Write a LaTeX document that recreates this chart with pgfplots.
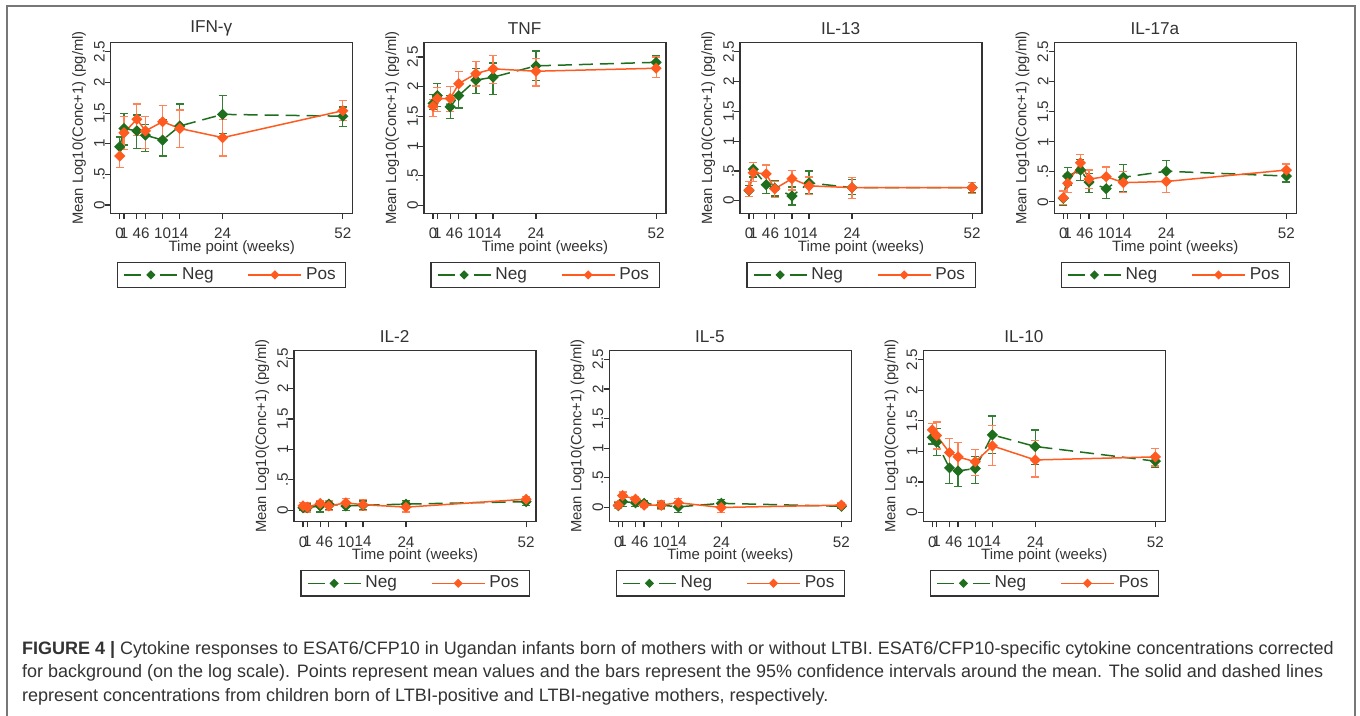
\documentclass[border=0pt]{standalone}
\usepackage{fontspec}
\setmainfont{Liberation Sans}
\usepackage{pgfplots}
\usepackage{pgfplotstable}
\pgfplotsset{compat=1.18}

\definecolor{negc}{HTML}{1E6E1E}
\definecolor{posc}{HTML}{FF5A1F}
\definecolor{axc}{HTML}{333333}
\definecolor{txc}{HTML}{333333}
\definecolor{framec}{HTML}{777777}

% columns: week, Neg mean/low/high, Pos mean/low/high
\pgfplotstableread{
x  nm    nl    nh    pm    pl    ph
0  0.95  0.79  1.11  0.80  0.61  0.95
1  1.25  0.98  1.49  1.18  0.91  1.44
4  1.21  0.92  1.47  1.40  1.14  1.65
6  1.14  0.87  1.32  1.21  0.92  1.45
10 1.06  0.80  1.39  1.36  1.10  1.63
14 1.29  0.94  1.65  1.25  0.94  1.55
24 1.48  1.17  1.79  1.10  0.80  1.40
52 1.45  1.28  1.60  1.54  1.38  1.70
}\ifng
\pgfplotstableread{
x  nm    nl    nh    pm    pl    ph
0  1.72  1.61  1.87  1.67  1.50  1.79
1  1.85  1.66  2.06  1.80  1.58  1.99
4  1.66  1.46  1.85  1.80  1.58  2.00
6  1.85  1.64  2.06  2.05  1.85  2.26
10 2.11  1.88  2.31  2.22  2.01  2.43
14 2.16  1.87  2.40  2.30  2.05  2.52
24 2.35  2.10  2.60  2.26  2.01  2.48
52 2.41  2.29  2.52  2.31  2.15  2.50
}\tnf
\pgfplotstableread{
x  nm    nl    nh    pm    pl    ph
0  0.17  0.07  0.26  0.18  0.07  0.32
1  0.53  0.40  0.64  0.47  0.32  0.64
4  0.27  0.12  0.42  0.45  0.26  0.60
6  0.21  0.08  0.34  0.20  0.06  0.32
10 0.08 -0.07  0.23  0.37  0.18  0.51
14 0.30  0.12  0.50  0.25  0.11  0.40
24 0.22  0.10  0.35  0.22  0.04  0.39
52 0.22  0.13  0.31  0.22  0.12  0.30
}\ilxiii
\pgfplotstableread{
x  nm    nl    nh    pm    pl    ph
0  0.06 -0.06  0.17  0.07 -0.04  0.18
1  0.43  0.28  0.57  0.31  0.15  0.47
4  0.53  0.36  0.71  0.65  0.47  0.79
6  0.33  0.15  0.47  0.38  0.22  0.53
10 0.22  0.06  0.39  0.42  0.24  0.58
14 0.41  0.17  0.62  0.32  0.15  0.50
24 0.51  0.33  0.69  0.34  0.15  0.54
52 0.43  0.33  0.53  0.53  0.43  0.63
}\ilxvii
\pgfplotstableread{
x  nm    nl    nh    pm    pl    ph
0  0.04 -0.01  0.09  0.07  0.02  0.12
1  0.04 -0.01  0.10  0.05 -0.03  0.12
4  0.07 -0.03  0.14  0.11  0.04  0.16
6  0.10  0.01  0.16  0.07 -0.01  0.15
10 0.07  0.00  0.12  0.12  0.05  0.19
14 0.08  0.01  0.15  0.09 -0.01  0.18
24 0.10  0.04  0.15  0.05 -0.03  0.14
52 0.14  0.08  0.19  0.18  0.12  0.22
}\ilii
\pgfplotstableread{
x  nm    nl    nh    pm    pl    ph
0  0.03 -0.02  0.08  0.04 -0.02  0.10
1  0.10  0.02  0.17  0.20  0.12  0.26
4  0.08  0.02  0.15  0.14  0.10  0.18
6  0.07  0.00  0.12  0.04  0.00  0.10
10 0.04 -0.01  0.09  0.04 -0.03  0.11
14 0.01 -0.09  0.10  0.08  0.01  0.15
24 0.07  0.01  0.13  0.00 -0.09  0.07
52 0.02 -0.02  0.07  0.04  0.00  0.08
}\ilv
\pgfplotstableread{
x  nm    nl    nh    pm    pl    ph
0  1.23  1.12  1.34  1.35  1.24  1.46
1  1.15  0.93  1.37  1.26  1.04  1.48
4  0.73  0.47  0.99  0.98  0.74  1.21
6  0.68  0.42  0.93  0.91  0.68  1.14
10 0.72  0.47  0.91  0.83  0.61  1.03
14 1.27  0.96  1.58  1.09  0.77  1.42
24 1.08  0.79  1.35  0.86  0.58  1.18
52 0.84  0.74  0.93  0.91  0.76  1.05
}\ilx

\pgfplotsset{
  panel/.style={
    scale only axis, width=121pt,
    xmin=-2.1, xmax=54.3,
    xtick={0,1,4,6,10,14,24,52},
    ytick={0,0.5,1,1.5,2,2.5},
    yticklabels={0,.5,1,1.5,2,2.5},
    axis line style={draw=axc, line width=0.7pt},
    tick style={draw=axc, line width=0.6pt},
    tick align=outside, xtick pos=bottom, ytick pos=left,
    major tick length=2.8pt,
    /pgf/number format/assume math mode=true,
    tick label style={font=\fontsize{7.6}{9}\selectfont, text=txc},
    yticklabel style={rotate=90, anchor=south, inner sep=0pt},
    xticklabel style={anchor=north, inner sep=0pt, yshift=-4.4pt},
    xlabel={Time point (weeks)},
    ylabel={Mean Log10(Conc+1) (pg/ml)},
    every axis x label/.style={at={(axis description cs:0.5,0)}, anchor=center,
      yshift=-17pt, font=\fontsize{7.5}{9}\selectfont, text=txc},
    every axis y label/.style={at={(axis description cs:-0.131,0.5)}, rotate=90,
      anchor=center, font=\fontsize{7.4}{9}\selectfont, text=txc},
    every axis title/.style={at={(axis description cs:0.5,1)}, anchor=center,
      xshift=-10.2pt, yshift=7.1pt, font=\fontsize{8.6}{10}\selectfont, text=txc},
    legend style={at={(axis description cs:0.5,0)}, anchor=north, yshift=-24.2pt,
      draw=axc, line width=0.6pt, legend columns=2, text=txc,
      font=\fontsize{8.6}{10}\selectfont, inner xsep=3pt, inner ysep=0.6pt,
      /tikz/every even column/.append style={column sep=15pt}},
    legend cell align=left,
  },
  negline/.style={negc, line width=0.75pt, dash pattern=on 7pt off 3.5pt,
    mark=square*, mark size=1.6pt, mark options={solid, rotate=45, fill=negc},
    legend image code/.code={
      \draw[##1, solid] (0pt,0pt) -- (8.5pt,0pt) (18pt,0pt) -- (26.5pt,0pt);
      \draw[##1, solid, mark size=1.25pt] plot coordinates {(13.25pt,0pt)};},
    error bars/.cd, y dir=both, y explicit,
    error bar style={solid, line width=0.6pt, negc!90!white},
    error mark options={rotate=90, solid, line width=0.6pt, negc!90!white, mark size=2pt}},
  posline/.style={posc, line width=0.75pt,
    mark=square*, mark size=1.6pt, mark options={solid, rotate=45, fill=posc},
    legend image code/.code={
      \draw[##1, mark size=1.25pt, mark repeat=2, mark phase=2]
        plot coordinates {(0pt,0pt) (13.25pt,0pt) (26.5pt,0pt)};},
    error bars/.cd, y dir=both, y explicit,
    error bar style={solid, line width=0.6pt, posc!75!white},
    error mark options={rotate=90, solid, line width=0.6pt, posc!75!white, mark size=2pt}},
}

% #1 x, #2 y, #3 title, #4 table, #5 ymin, #6 ymax, #7 height
\newcommand\panel[7]{%
\begin{axis}[panel, at={(#1,#2)}, anchor=north west, title={#3},
  ymin=#5, ymax=#6, height=#7]
\addplot[negline] table[x=x, y=nm,
  y error plus expr=\thisrow{nh}-\thisrow{nm},
  y error minus expr=\thisrow{nm}-\thisrow{nl}] {#4};
\addlegendentry{Neg}
\addplot[posline] table[x=x, y=pm,
  y error plus expr=\thisrow{ph}-\thisrow{pm},
  y error minus expr=\thisrow{pm}-\thisrow{pl}] {#4};
\addlegendentry{Pos}
\end{axis}}

\begin{document}
\begin{tikzpicture}
\useasboundingbox (0,0) rectangle (680pt,-358pt);
\draw[framec, line width=0.6pt] (3.5pt,-358pt) -- (3.5pt,-3pt) -- (677.5pt,-3pt) -- (677.5pt,-358pt);

\panel{55.35pt}{-21.35pt}{IFN-γ}{\ifng}{-0.135}{2.65}{85.3pt}
\panel{212pt}{-21.35pt}{TNF}{\tnf}{-0.13}{2.74}{85.3pt}
\panel{370pt}{-21.35pt}{IL-13}{\ilxiii}{-0.21}{2.65}{85.3pt}
\panel{527.15pt}{-21.35pt}{IL-17a}{\ilxvii}{-0.19}{2.65}{85.3pt}
\panel{147pt}{-175.25pt}{IL-2}{\ilii}{-0.19}{2.63}{85.6pt}
\panel{304.65pt}{-175.25pt}{IL-5}{\ilv}{-0.24}{2.65}{85.6pt}
\panel{461.65pt}{-175.25pt}{IL-10}{\ilx}{-0.15}{2.65}{85.6pt}

\begin{scope}[every node/.style={anchor=base west, inner sep=0pt, text=txc,
  font=\fontsize{9}{11}\selectfont}]
\node at (10.85pt,-327.2pt) {\textbf{FIGURE 4 |} Cytokine responses to ESAT6/CFP10 in Ugandan infants born of mothers with or without LTBI. ESAT6/CFP10-specific cytokine concentrations corrected};
\node at (10.85pt,-338.9pt) {for background (on the log scale). Points represent mean values and the bars represent the 95\% confidence intervals around the mean. The solid and dashed lines};
\node at (10.85pt,-350.5pt) {represent concentrations from children born of LTBI-positive and LTBI-negative mothers, respectively.};
\end{scope}
\end{tikzpicture}
\end{document}
